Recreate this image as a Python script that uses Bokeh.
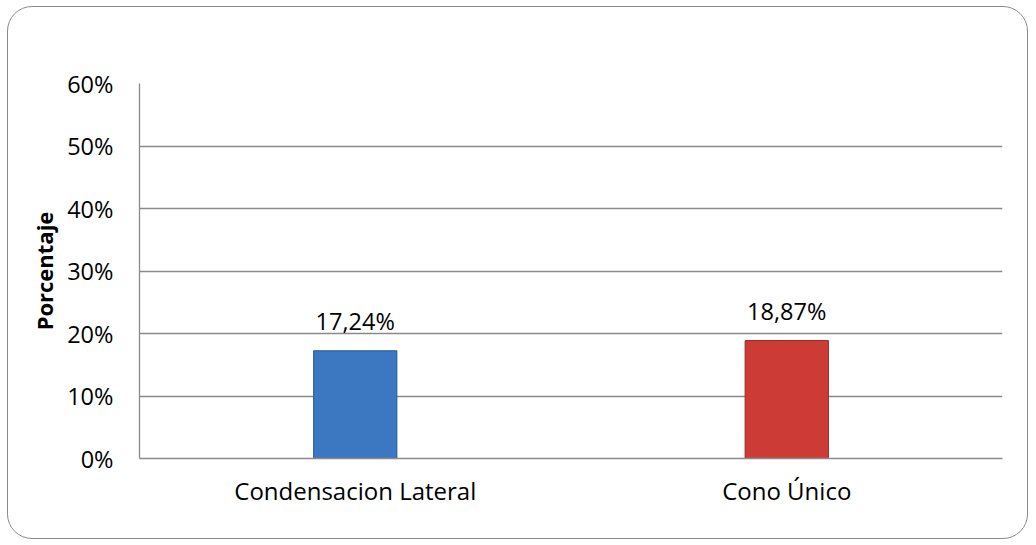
from bokeh.plotting import figure
from bokeh.models import ColumnDataSource, NumeralTickFormatter, FactorRange, Range1d, FixedTicker
from bokeh.core.properties import value
from bokeh.embed import file_html
from bokeh.resources import INLINE

categories = ["Condensacion Lateral", "Cono Único"]
percentages = [0.1724, 0.1887]
bar_colors = ["#3c77c1", "#cd3b37"]
bar_edges = ["#2b5a96", "#9a2624"]
y_ticks = [0.0, 0.1, 0.2, 0.3, 0.4, 0.5, 0.6]

labels = [f"{v*100:.2f}%".replace(".", ",") for v in percentages]
src = ColumnDataSource(dict(cat=categories, val=percentages, fill=bar_colors,
                            edge=bar_edges, lab=labels))

FONT = "Open Sans"

p = figure(width=1019, height=531, x_range=FactorRange(*categories, range_padding=0),
           y_range=Range1d(0, 0.6), output_backend="svg", toolbar_location=None,
           min_border_left=131, min_border_top=76, min_border_right=27, min_border_bottom=82)

# rounded outer border of the chart area (CSS on the plot element, canvas kept transparent)
p.styles = {"border": "1.3px solid #8a8a8a", "border-radius": "25px",
            "margin": "6px 0 0 7px", "box-sizing": "content-box"}

p.vbar(x="cat", top="val", width=0.193, source=src, fill_color="fill", line_color="edge",
       line_width=1)
p.text(x="cat", y="val", text="lab", source=src, y_offset=-30, text_align="center",
       text_baseline="alphabetic", text_font=value(FONT), text_font_size="23.5px",
       text_color="#000000")

p.outline_line_color = None
p.background_fill_color = None
p.border_fill_color = None

p.xgrid.grid_line_color = None
p.ygrid.grid_line_color = "#8a8a8a"
p.ygrid.grid_line_width = 1.3

p.yaxis.ticker = FixedTicker(ticks=y_ticks)
p.yaxis.formatter = NumeralTickFormatter(format="0%")
p.yaxis.axis_label = "Porcentaje"
p.yaxis.axis_label_text_font = FONT
p.yaxis.axis_label_text_font_style = "bold"
p.yaxis.axis_label_text_font_size = "22px"
p.yaxis.axis_label_text_color = "#000000"
p.yaxis.axis_label_standoff = 5

for ax in (p.xaxis[0], p.yaxis[0]):
    ax.axis_line_color = "#8a8a8a"
    ax.axis_line_width = 1.3
    ax.major_tick_line_color = None
    ax.minor_tick_line_color = None
    ax.major_tick_out = 0
    ax.major_tick_in = 0
    ax.minor_tick_out = 0
    ax.minor_tick_in = 0
    ax.major_label_text_font = FONT
    ax.major_label_text_font_size = "23.5px"
    ax.major_label_text_color = "#000000"

p.xaxis.major_label_text_font_size = "24px"
p.yaxis.major_label_standoff = 26
p.xaxis.major_label_standoff = 15

open("out.html", "w").write(file_html(p, INLINE))
